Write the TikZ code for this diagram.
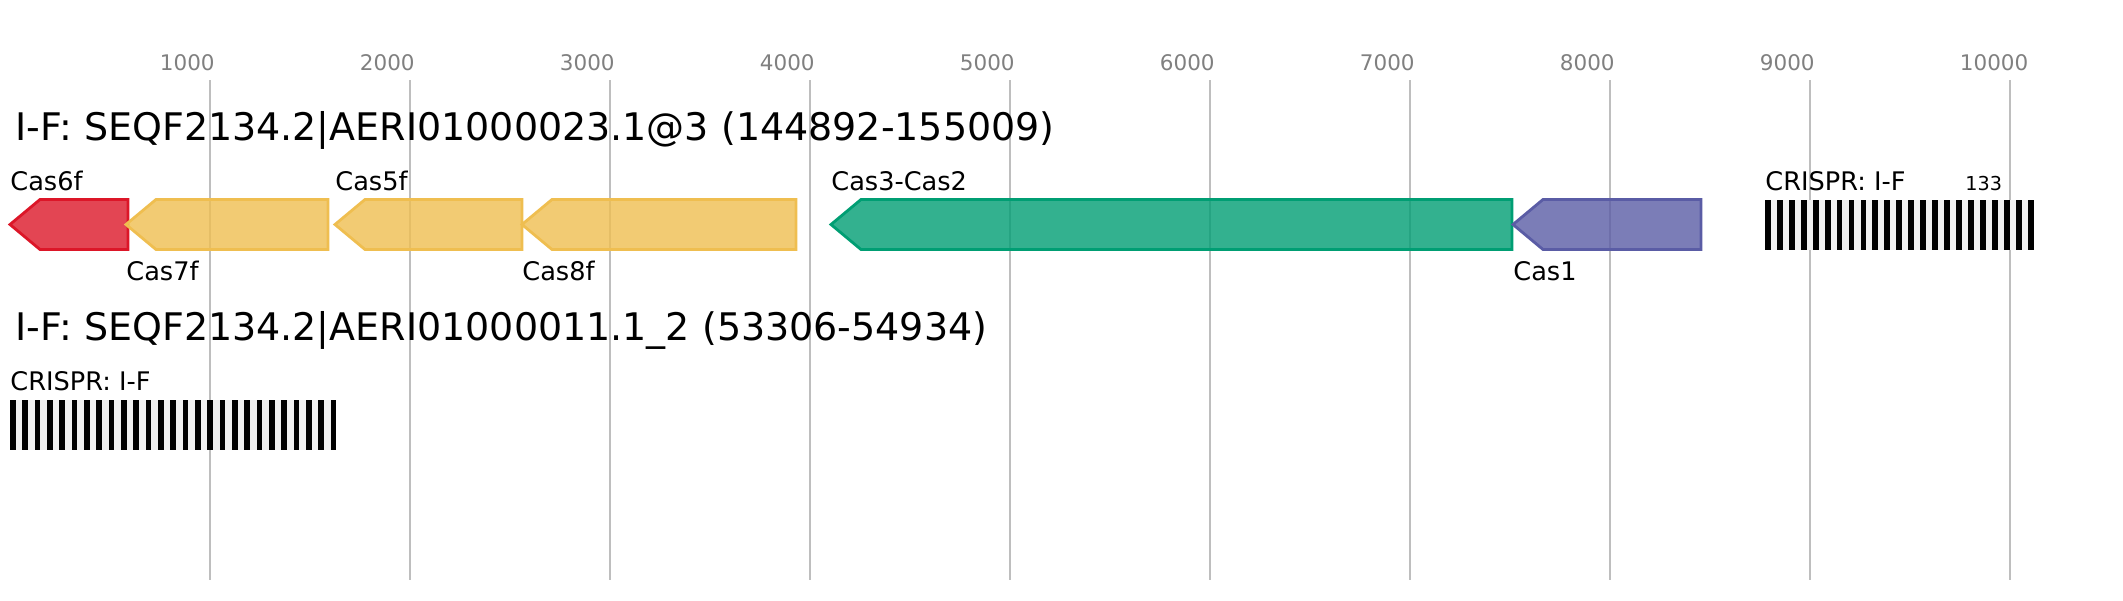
\documentclass[tikz,border=0pt]{standalone}
\usepackage{fontspec}
\setmainfont{DejaVu Sans}
\definecolor{gridc}{RGB}{190,190,190}
\definecolor{tickc}{RGB}{128,128,128}
\definecolor{redS}{RGB}{220,22,40}
\definecolor{yelS}{RGB}{239,190,80}
\definecolor{tealS}{RGB}{0,158,115}
\definecolor{blueS}{RGB}{90,92,165}
\definecolor{spacerc}{RGB}{240,240,240}
\tikzset{
  x=0.5pt, y=-0.5pt,
  gridline/.style={draw=gridc, line width=0.8pt},
  ticklabel/.style={text=tickc, font=\fontsize{10.75pt}{12pt}\selectfont, anchor=base west, inner sep=0pt},
  title/.style={font=\fontsize{19pt}{22pt}\selectfont, anchor=base west, inner sep=0pt},
  genelabel/.style={font=\fontsize{12.8pt}{15pt}\selectfont, anchor=base west, inner sep=0pt},
  countlabel/.style={font=\fontsize{9.6pt}{11pt}\selectfont, anchor=base west, inner sep=0pt},
  gene/.style={draw=#1, fill=#1, fill opacity=0.8, line width=1.4pt, line join=miter},
  spacer/.style={fill=spacerc},
  repeatbar/.style={fill=black},
}
\newcommand{\genearrow}[4]{% color, tip x, right x, center y
  \path[gene=#1] (#2,#4) -- (#2+30,#4-25) -- (#3,#4-25) -- (#3,#4+25) -- (#2+30,#4+25) -- cycle;
}
\begin{document}
\begin{tikzpicture}
\useasboundingbox (0,0) rectangle (2123,600);
% grid and ticks
\foreach \i in {1,...,10} {
  \pgfmathsetmacro{\gx}{10+200*\i}
  \draw[gridline] (\gx,80) -- (\gx,580);
  \pgfmathtruncatemacro{\lab}{1000*\i}
  \node[ticklabel] (tick\i) at (\gx-50.5,70) {\lab};
}
% titles
\node[title] (title1) at (15,140) {I-F: SEQF2134.2|AERI01000023.1@3 (144892-155009)};
\node[title] (title2) at (15,340) {I-F: SEQF2134.2|AERI01000011.1\_2 (53306-54934)};
% genes row 1
\genearrow{redS}{10}{128}{224.5}
\genearrow{yelS}{126}{328}{224.5}
\genearrow{yelS}{335}{522}{224.5}
\genearrow{yelS}{522}{796}{224.5}
\genearrow{tealS}{831}{1512}{224.5}
\genearrow{blueS}{1513}{1701}{224.5}
\node[genelabel] (lcas6f) at (10,190) {Cas6f};
\node[genelabel] (lcas7f) at (126,280) {Cas7f};
\node[genelabel] (lcas5f) at (335,190) {Cas5f};
\node[genelabel] (lcas8f) at (522,280) {Cas8f};
\node[genelabel] (lcas3) at (831,190) {Cas3-Cas2};
\node[genelabel] (lcas1) at (1513,280) {Cas1};
% CRISPR row 1
\fill[spacer] (1765,200) rectangle (2034,250);
\foreach \i in {0,...,22} {
  \fill[repeatbar] (1765+\i*11.94,200) rectangle (1770.8+\i*11.94,250);
}
\node[genelabel] (lcrispr1) at (1765,190) {CRISPR: I-F};
\node[countlabel] (count1) at (1965,190) {133};
% CRISPR row 2
\fill[spacer] (10,400) rectangle (336,450);
\foreach \i in {0,...,26} {
  \fill[repeatbar] (10+\i*12.33,400) rectangle (15.8+\i*12.33,450);
}
\node[genelabel] (lcrispr2) at (10,390) {CRISPR: I-F};
\end{tikzpicture}
\end{document}
